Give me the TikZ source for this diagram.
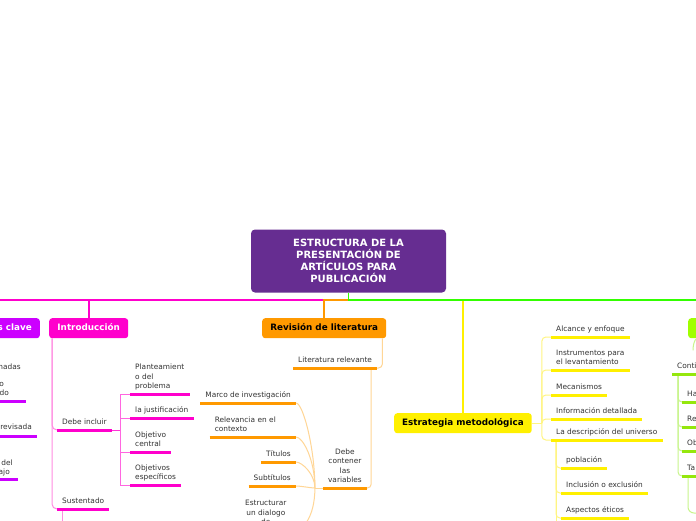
\documentclass[tikz,border=0pt]{standalone}
\usepackage{fontspec}
\setmainfont{DejaVu Sans}
\usetikzlibrary{calc}
\definecolor{rootc}{RGB}{102,45,145}
\definecolor{violc}{RGB}{204,0,255}
\definecolor{magc}{RGB}{255,0,204}
\definecolor{magl}{RGB}{255,140,225}
\definecolor{orc}{RGB}{255,153,0}
\definecolor{orl}{RGB}{255,214,150}
\definecolor{yelc}{RGB}{255,240,0}
\definecolor{yell}{RGB}{255,245,130}
\definecolor{grc}{RGB}{51,255,0}
\definecolor{limc}{RGB}{160,255,0}
\definecolor{liml}{RGB}{200,245,140}
\definecolor{txt}{RGB}{51,51,51}
\newcommand\itemfont{\fontsize{7.4}{9.3}\selectfont}
\newcommand\boxfont{\fontsize{8.8}{10.5}\selectfont\bfseries}
\newcommand\rootfont{\fontsize{10}{12}\selectfont\bfseries}
\tikzset{
  itm/.style={inner xsep=5pt, inner ysep=2.6pt, font=\itemfont, text=txt, align=left, execute at end node=\strut},
  frag/.style={inner sep=0pt, font=\itemfont, text=txt},
  mbox/.style={rounded corners=3pt, minimum height=20pt, inner xsep=8pt, inner ysep=0pt, font=\boxfont, text height=6.5pt, text depth=1.8pt, anchor=north west},
  ul/.style={line width=3pt},
  thinl/.style={line width=1pt},
  mainl/.style={line width=1.8pt},
}
\begin{document}
\begin{tikzpicture}[x=1pt,y=-1pt]
\useasboundingbox (0,0) rectangle (696,520);
\clip (0,0) rectangle (696,520);
\fill[white] (0,0) rectangle (696,520);

% root
\node[rounded corners=4pt, fill=rootc, text=white, font=\rootfont, align=center, minimum width=195pt, minimum height=63pt] (root) at (348.5,261) {ESTRUCTURA DE LA\\PRESENTACIÓN DE\\ARTÍCULOS PARA\\PUBLICACIÓN};

% main boxes
\node[mbox, fill=violc, text=white, anchor=north east] (pc) at (40,318) {Palabras clave};
\node[mbox, fill=magc, text=white, minimum width=79pt] (intro) at (49,318) {Introducción};
\node[mbox, fill=orc, text=black, minimum width=124pt] (rev) at (262,318) {Revisión de literatura};
\node[mbox, fill=yelc, text=black, minimum width=137pt] (em) at (394,413) {Estrategia metodológica};
\node[mbox, fill=limc, minimum width=80pt] (gb) at (688,318) {};

% top connectors
\coordinate (hub) at (348.5,300);
\draw[mainl, magc] (hub -| rev.north) -- (hub -| pc.north) -- (pc.north);
\draw[mainl, magc] (hub -| intro.north) -- (intro.north);
\draw[mainl, orc] (hub) -| (rev.north);
\draw[mainl, yelc] (hub -| em.north) -- (em.north);
\draw[mainl, grc] (root.south) -- (hub) -| (gb.north);

% Palabras clave fragments
\node[frag, anchor=base east] (k1) at (21,369.5) {nadas};
\node[frag, anchor=base east] (k2) at (4,386.5) {o};
\node[frag, anchor=base east] (k3) at (9,395.5) {do};
\node[frag, anchor=base east] (k4) at (32,429.5) {revisada};
\node[frag, anchor=base east] (k5) at (13,465) {del};
\node[frag, anchor=base east] (k6) at (10,474.5) {ajo};
\draw[ul, violc] (-5,401) -- (26,401);
\draw[ul, violc] (-5,436) -- (37,436);
\draw[ul, violc] (-5,479.5) -- (18,479.5);

% Introduccion
\node[itm, anchor=south west] (di) at (57,430) {Debe incluir};
\node[itm, anchor=south west] (sus) at (57,509) {Sustentado};
\node[itm, anchor=south west] (pl) at (130,394) {Planteamient\\o del\\problema};
\node[itm, anchor=south west] (ju) at (130,418) {la justificación};
\node[itm, anchor=south west] (oc) at (130,452) {Objetivo\\central};
\node[itm, anchor=south west] (oe) at (130,485) {Objetivos\\específicos};
\draw[thinl, magl, rounded corners=5pt] ([xshift=3pt]intro.south west) |- (di.south west);
\draw[thinl, magl, rounded corners=5pt] ([xshift=3pt]intro.south west) |- (sus.south west);
\draw[thinl, magl] ([xshift=5pt]sus.south west) -- +(0,20);
\coordinate (dij) at ($(di.south east)+(9,0)$);
\draw[thinl, magc!80] (di.south east) -- (dij);
\foreach \n in {pl,ju,oc,oe} \draw[thinl, magc!60] (dij) |- (\n.south west);
\foreach \n in {di,sus,pl,ju,oc,oe} \draw[ul, magc] (\n.south west) -- (\n.south east);

% Revision de literatura
\node[itm, anchor=south west] (lr) at (293,368) {Literatura relevante};
\node[itm, anchor=south east, align=center] (dcv) at (367,488) {Debe\\contener\\las\\variables};
\node[itm, anchor=south east] (mi) at (296,403) {Marco de investigación};
\node[itm, anchor=south east, text width=76pt] (rc) at (296,437) {Relevancia en el\\contexto};
\node[itm, anchor=south east] (ti) at (296,462) {Títulos};
\node[itm, anchor=south east] (st) at (296,486) {Subtítulos};
\node[itm, anchor=south east, align=center, text width=50pt] (es) at (296,530) {Estructurar\\un dialogo\\de};
\draw[thinl, orl, rounded corners=4pt] ([xshift=-4pt]rev.south east) |- (lr.south east);
\draw[thinl, orl, rounded corners=4pt] ([xshift=-6pt]lr.south east) |- (dcv.south east);
\coordinate (jn) at ($(dcv.south west)+(-8,0)$);
\draw[thinl, orl] (jn) -- (dcv.south west);
\draw[thinl, orl] (mi.south east) .. controls +(7,0) and +(0,-40) .. (jn);
\draw[thinl, orl] (rc.south east) .. controls +(7,0) and +(0,-28) .. (jn);
\draw[thinl, orl] (ti.south east) .. controls +(6,0) and +(0,-14) .. (jn);
\draw[thinl, orl] (st.south east) .. controls +(5,0) and +(-4,0) .. (jn);
\draw[thinl, orl] (jn) .. controls +(0,30) and +(6,0) .. (es.south east);
\foreach \n in {lr,dcv,mi,rc,ti,st,es} \draw[ul, orc] (\n.south west) -- (\n.south east);

% Estrategia metodologica
\node[itm, anchor=south west] (ae) at (551,337) {Alcance y enfoque};
\node[itm, anchor=south west] (il) at (551,370) {Instrumentos para\\el levantamiento};
\node[itm, anchor=south west] (me) at (551,395) {Mecanismos};
\node[itm, anchor=south west] (id) at (551,419) {Información detallada};
\node[itm, anchor=south west] (du) at (551,440) {La descripción del universo};
\node[itm, anchor=south west] (po) at (561,468) {población};
\node[itm, anchor=south west] (ie) at (561,493) {Inclusión o exclusión};
\node[itm, anchor=south west] (ap) at (561,518) {Aspectos éticos};
\coordinate (emj) at ($(em.east)+(10,0)$);
\draw[thinl, yell] (em.east) -- (emj);
\foreach \n in {ae,il,me,id,du} \draw[thinl, yell, rounded corners=4pt] (emj) |- (\n.south west);
\foreach \n in {po,ie,ap} \draw[thinl, yell, rounded corners=4pt] ([xshift=5pt]du.south west) |- (\n.south west);
\draw[thinl, yell] ([xshift=5pt]du.south west) -- +(0,90);
\foreach \n in {ae,il,me,id,du,po,ie,ap} \draw[ul, yelc] (\n.south west) -- (\n.south east);

% right green branch
\node[itm, anchor=south west] (co) at (672,374) {Conti};
\node[itm, anchor=south west] (ha) at (682,402) {Ha};
\node[itm, anchor=south west] (re) at (682,427) {Re};
\node[itm, anchor=south west] (ob) at (682,451) {Ob};
\node[itm, anchor=south west] (ta) at (682,476) {Ta};
\draw[thinl, liml] ([xshift=9pt]gb.south west) .. controls +(-3,1) and +(0,-4) .. ([xshift=5pt,yshift=-12pt]gb.south west);
\foreach \n in {ha,re,ob,ta} \draw[thinl, liml, rounded corners=4pt] ([xshift=6pt]co.south west) |- (\n.south west);
\draw[thinl, liml, rounded corners=6pt] ([xshift=6pt]ta.south west) |- +(30,37);
\foreach \n in {co,ha,re,ob,ta} \draw[ul, limc!90!black!95] (\n.south west) -- +(40,0);
\end{tikzpicture}
\end{document}
